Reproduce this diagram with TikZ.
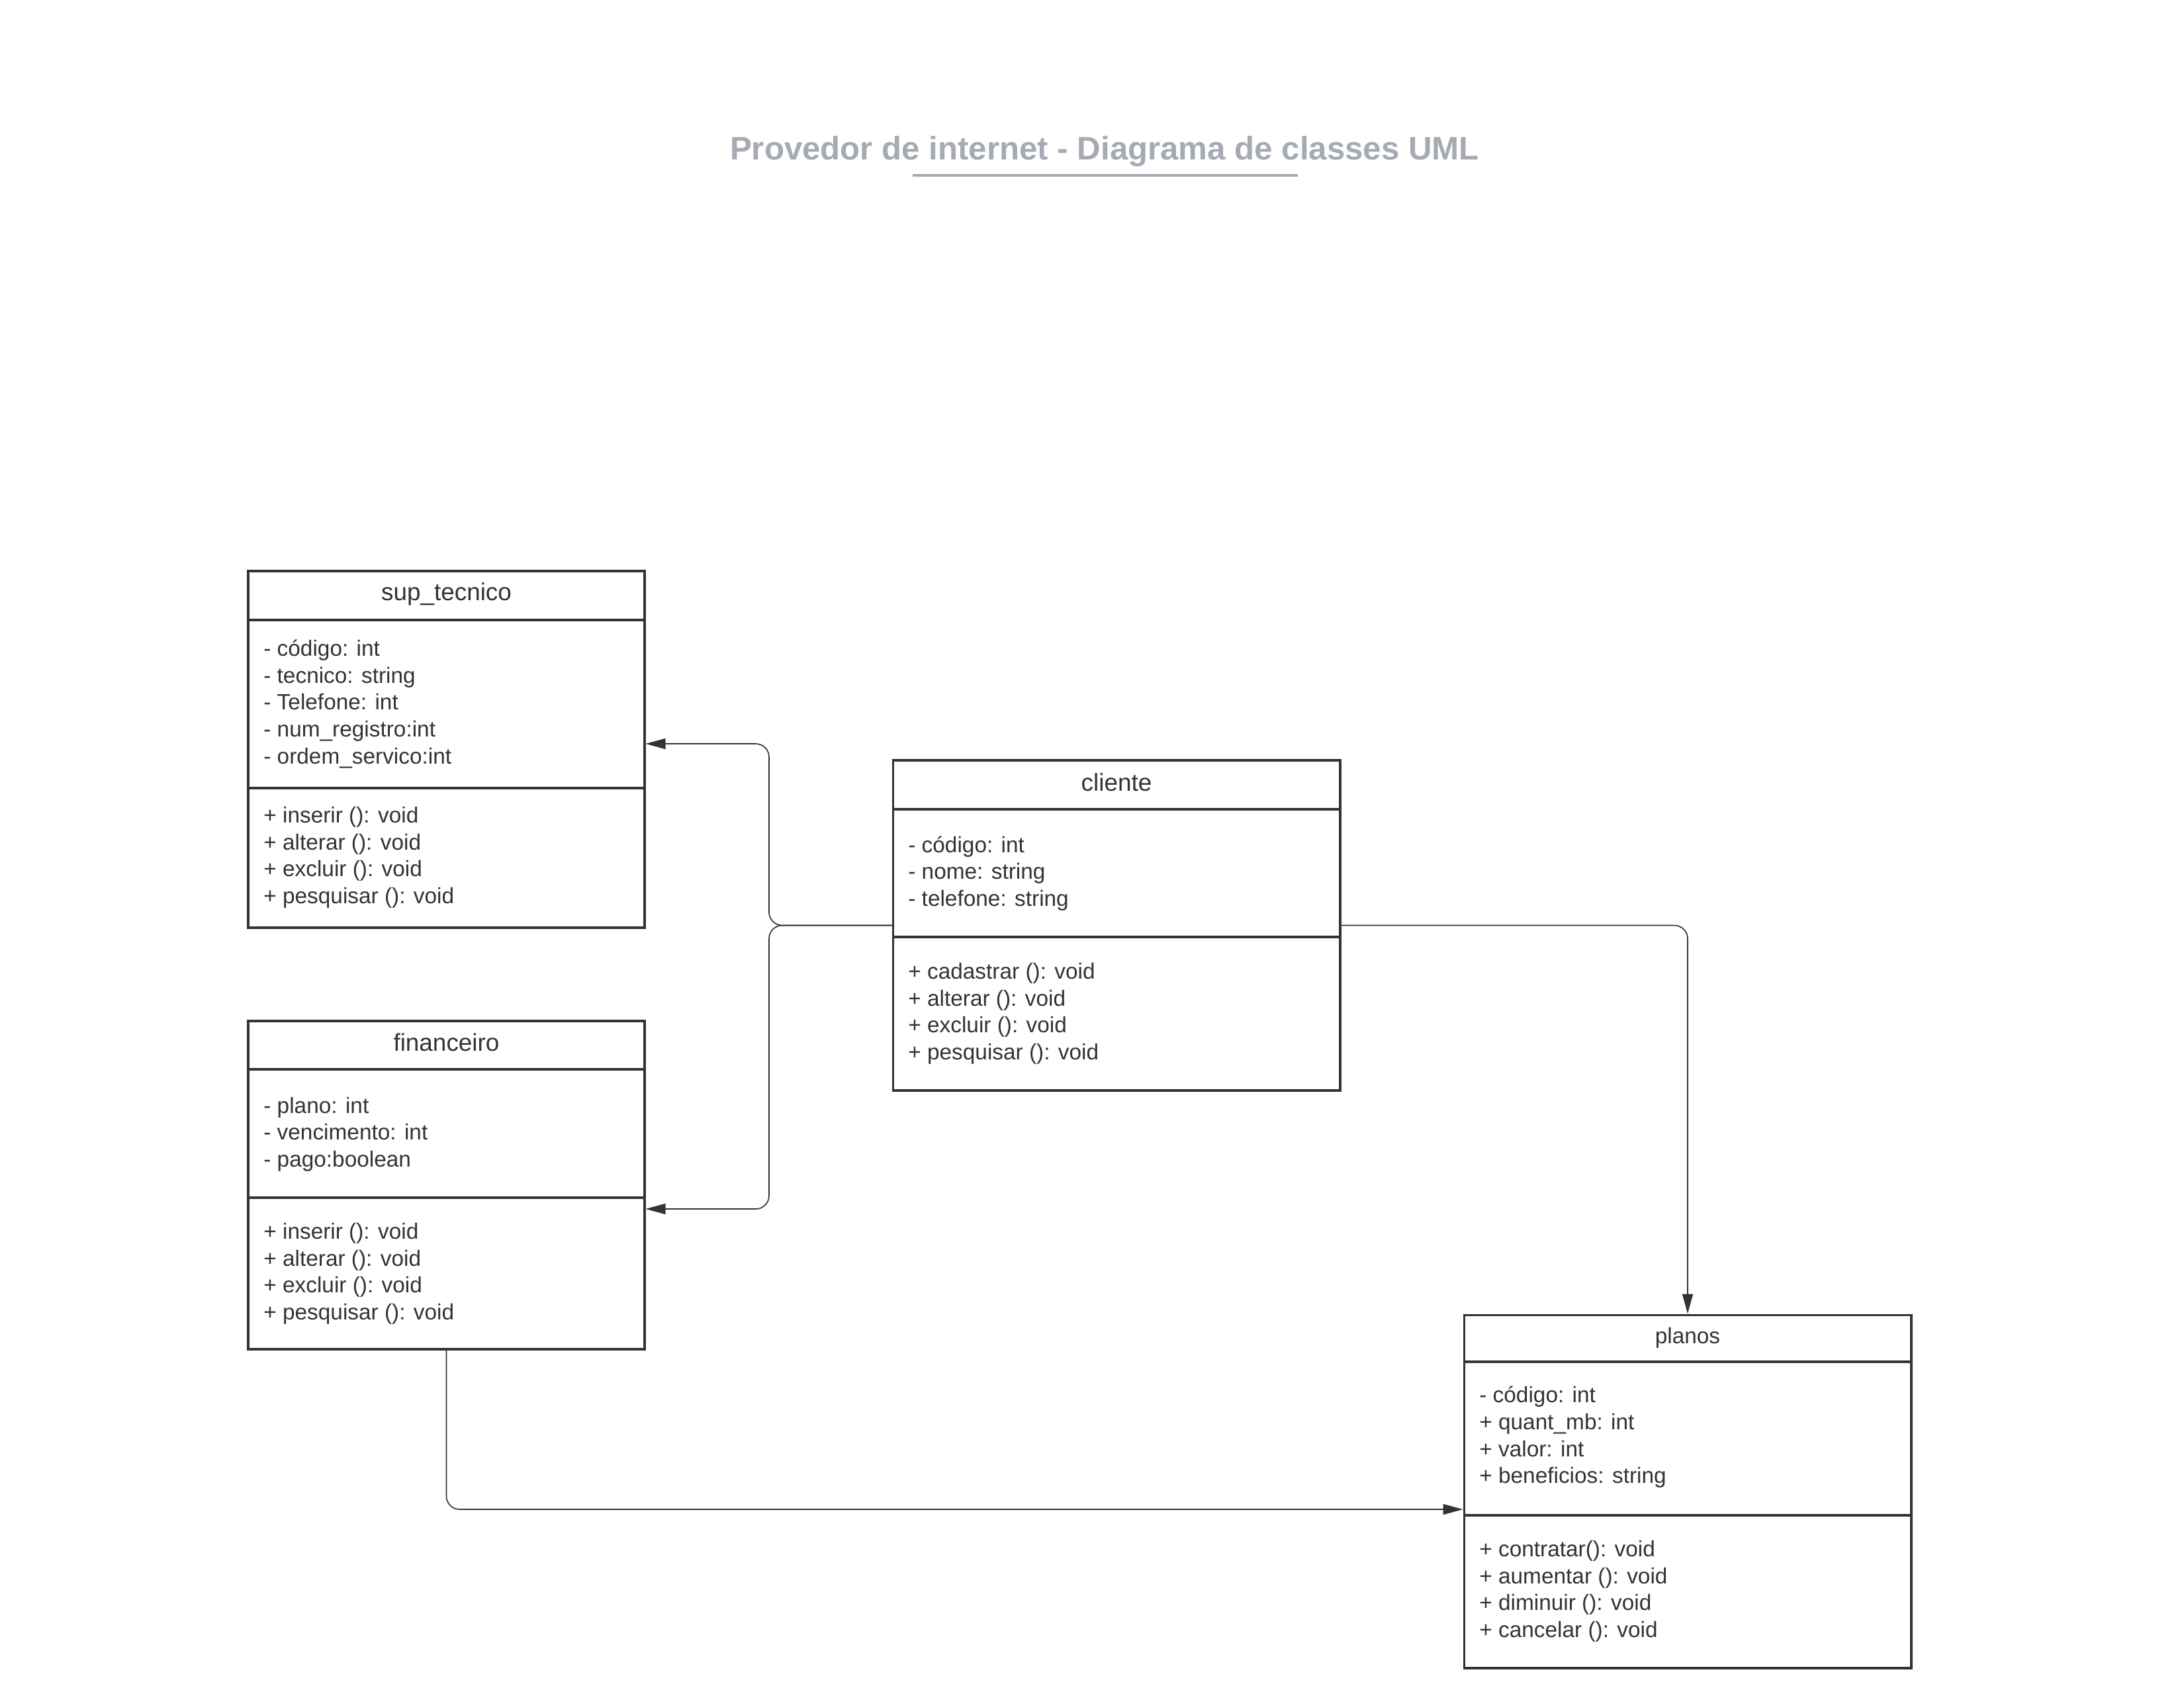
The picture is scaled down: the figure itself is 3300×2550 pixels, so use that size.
\documentclass[tikz,border=0pt]{standalone}
\usepackage{fontspec}
\setmainfont{Liberation Sans}
\usetikzlibrary{arrows.meta}
\definecolor{ink}{HTML}{333333}
\definecolor{titlegray}{HTML}{A5AAB3}
\begin{document}
\begin{tikzpicture}[x=0.02cm,y=-0.02cm,
  classbox/.style={draw=ink, line width=1.8pt, inner sep=0pt},
  sepline/.style={draw=ink, line width=1.8pt},
  cname/.style={text=ink, font=\fontsize{21}{25}\selectfont, inner sep=0pt},
  members/.style={text=ink, font=\fontsize{19}{23.1}\selectfont, align=left, anchor=west, inner sep=0pt},
  conn/.style={draw=ink, line width=0.95pt, rounded corners=0.4cm, -{Triangle[length=0.6cm,width=0.32cm]}},
]
\fill[white] (0,0) rectangle (3300,2550);
\useasboundingbox (0,0) rectangle (3300,2550);

% title
\node[font=\bfseries\fontsize{28}{34}\selectfont, text=titlegray, inner sep=0pt] (title) at (1669,229) {Provedor de internet - Diagrama de classes UML};
\coordinate (ulA) at (1379,265);
\coordinate (ulB) at (1961,265);
\draw[titlegray, line width=2.5pt] (ulA) -- (ulB);

% sup_tecnico
\node[classbox, minimum width=11.98cm, minimum height=10.78cm] (sup) at (674.5,1132.5) {};
\draw[sepline] (sup.west |- 0,937) -- (sup.east |- 0,937);
\draw[sepline] (sup.west |- 0,1191) -- (sup.east |- 0,1191);
\node[cname] (supname) at (674.5,898) {sup\_tecnico};
\node[members] (supattr) at (398,1064) {- código: int\\- tecnico: string\\- Telefone: int\\- num\_registro:int\\- ordem\_servico:int};
\node[members] (supmeth) at (398,1296) {+ inserir (): void\\+ alterar (): void\\+ excluir (): void\\+ pesquisar (): void};

% cliente
\node[classbox, minimum width=13.52cm, minimum height=9.98cm] (cli) at (1687,1398.5) {};
\draw[sepline] (cli.west |- 0,1223) -- (cli.east |- 0,1223);
\draw[sepline] (cli.west |- 0,1416) -- (cli.east |- 0,1416);
\node[cname] (cliname) at (1687,1182) {cliente};
\node[members] (cliattr) at (1372,1320) {- código: int\\- nome: string\\- telefone: string};
\node[members] (climeth) at (1372,1532) {+ cadastrar (): void\\+ alterar (): void\\+ excluir (): void\\+ pesquisar (): void};

% financeiro
\node[classbox, minimum width=11.98cm, minimum height=9.92cm] (fin) at (674.5,1791) {};
\draw[sepline] (fin.west |- 0,1616) -- (fin.east |- 0,1616);
\draw[sepline] (fin.west |- 0,1810) -- (fin.east |- 0,1810);
\node[cname] (finname) at (674.5,1575) {financeiro};
\node[members] (finattr) at (398,1714) {- plano: int\\- vencimento: int\\- pago:boolean};
\node[members] (finmeth) at (398,1925) {+ inserir (): void\\+ alterar (): void\\+ excluir (): void\\+ pesquisar (): void};

% planos
\node[classbox, minimum width=13.52cm, minimum height=10.68cm] (plan) at (2550,2254) {};
\draw[sepline] (plan.west |- 0,2058) -- (plan.east |- 0,2058);
\draw[sepline] (plan.west |- 0,2290) -- (plan.east |- 0,2290);
\node[cname, font=\fontsize{19}{23}\selectfont] (planname) at (2550,2022) {planos};
\node[members] (planattr) at (2235,2172) {- código: int\\+ quant\_mb: int\\+ valor: int\\+ beneficios: string};
\node[members] (planmeth) at (2235,2405) {+ contratar(): void\\+ aumentar (): void\\+ diminuir (): void\\+ cancelar (): void};

% connectors
\draw[conn] (cli.west) -- (1162,1398.5) -- (1162,1124) -- (sup.east |- 0,1124);
\draw[conn] (cli.west) -- (1162,1398.5) -- (1162,1827) -- (fin.east |- 0,1827);
\draw[conn] (cli.east) -| (plan.north);
\draw[conn] (fin.south) |- (plan.west |- 0,2281);
\end{tikzpicture}
\end{document}
